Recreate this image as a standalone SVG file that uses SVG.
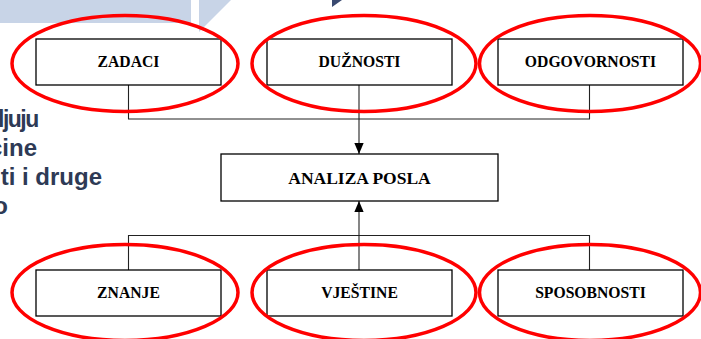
<svg xmlns="http://www.w3.org/2000/svg" width="701" height="339" viewBox="0 0 701 339">
  <style>
    .box { fill: #ffffff; stroke: #000000; stroke-width: 1.3; }
    .lbl { font-family: "Liberation Serif", "Times New Roman", serif; font-weight: bold; font-size: 15.7px; fill: #000000; text-anchor: middle; }
    .lbl-main { font-size: 17.5px; }
    .ring { fill: none; stroke: #ff0000; stroke-width: 3.5; }
    .wire { fill: none; stroke: #222222; stroke-width: 1.1; }
    .side { font-family: "Liberation Sans", Arial, sans-serif; font-weight: bold; font-size: 24px; fill: #2e3a55; }
    .end { text-anchor: end; }
    .deco { fill: #c8d4e7; }
  </style>
  <defs>
    <marker id="arrow" markerUnits="userSpaceOnUse" markerWidth="11" markerHeight="13" viewBox="0 0 13 11" refX="13" refY="5.5" orient="auto">
      <path d="M0,0 L13,5.5 L0,11 Z" fill="#000000"/>
    </marker>
  </defs>

  <!-- slide background decoration -->
  <g id="background">
    <rect width="701" height="339" fill="#ffffff"/>
    <rect class="deco" x="0" y="0" width="191" height="23"/>
    <polygon class="deco" points="199,0 231,0 199,32"/>
    <polygon points="332,0 342,0 332,7" fill="#3a4a70"/>
  </g>

  <!-- slide text on the left, running out of the frame -->
  <g id="side-text">
    <text class="side" x="-2" y="127" style="font-size:23px; letter-spacing:-1.5px">ljuju</text>
    <text class="side end" x="37" y="156">cine</text>
    <text class="side end" x="102" y="185">ti i druge</text>
    <text class="side end" x="8" y="214">o</text>
  </g>

  <!-- connectors -->
  <g id="connectors">
    <path class="wire" d="M128.5,85 V119 H589.5 V85"/>
    <path class="wire" d="M359,85 V154" marker-end="url(#arrow)"/>
    <path class="wire" d="M128.5,270 V235.5 H589.5 V270"/>
    <path class="wire" d="M359,270 V201" marker-end="url(#arrow)"/>
  </g>

  <!-- top row -->
  <g id="zadaci">
    <rect class="box" x="36" y="39" width="185" height="46"/>
    <text class="lbl" x="128.5" y="67">ZADACI</text>
  </g>
  <g id="duznosti">
    <rect class="box" x="267" y="39" width="185" height="46"/>
    <text class="lbl" x="359.5" y="67">DUŽNOSTI</text>
  </g>
  <g id="odgovornosti">
    <rect class="box" x="498" y="39" width="185" height="46"/>
    <text class="lbl" x="590.5" y="67">ODGOVORNOSTI</text>
  </g>

  <!-- centre -->
  <g id="analiza-posla">
    <rect class="box" x="221" y="154" width="277" height="47"/>
    <text class="lbl lbl-main" x="359.5" y="184">ANALIZA POSLA</text>
  </g>

  <!-- bottom row -->
  <g id="znanje">
    <rect class="box" x="36" y="270" width="185" height="46"/>
    <text class="lbl" x="128.5" y="298">ZNANJE</text>
  </g>
  <g id="vjestine">
    <rect class="box" x="267" y="270" width="185" height="46"/>
    <text class="lbl" x="359.5" y="298">VJEŠTINE</text>
  </g>
  <g id="sposobnosti">
    <rect class="box" x="498" y="270" width="185" height="46"/>
    <text class="lbl" x="590.5" y="298">SPOSOBNOSTI</text>
  </g>

  <!-- red highlight rings -->
  <g id="highlights">
    <ellipse class="ring" cx="125" cy="63.5" rx="113" ry="48"/>
    <ellipse class="ring" cx="364" cy="63.5" rx="112" ry="48"/>
    <ellipse class="ring" cx="590" cy="63.5" rx="110.5" ry="48"/>
    <ellipse class="ring" cx="125" cy="292.5" rx="113" ry="48"/>
    <ellipse class="ring" cx="364" cy="292.5" rx="112" ry="48"/>
    <ellipse class="ring" cx="590" cy="292.5" rx="110.5" ry="48"/>
  </g>
</svg>
